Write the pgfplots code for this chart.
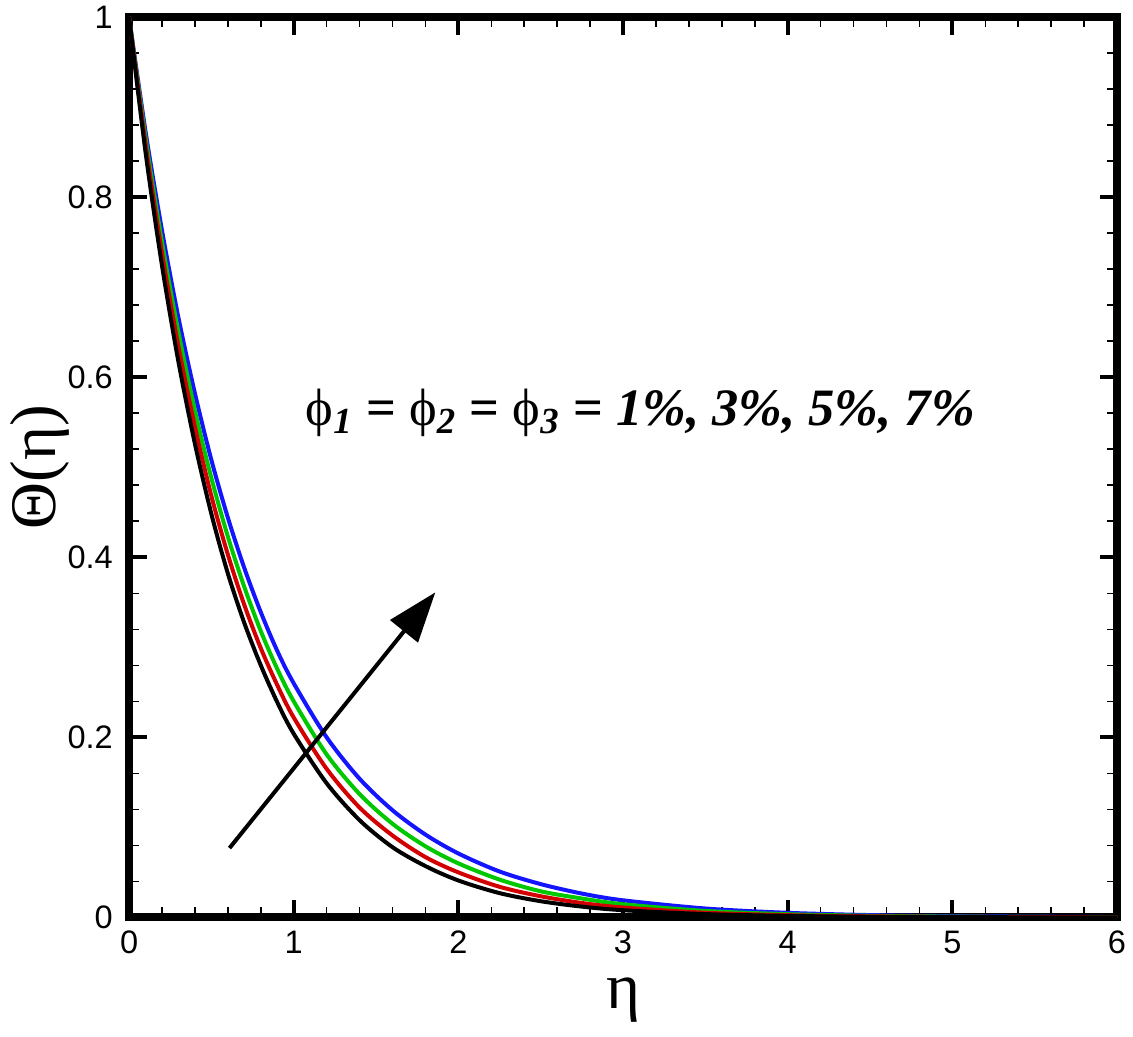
\documentclass[border=0pt]{standalone}
\usepackage{pgfplots}
\pgfplotsset{compat=1.18}
\usepackage{fontspec}
\setmainfont{Liberation Sans}
\newfontfamily\timesf{Liberation Serif}
\usetikzlibrary{arrows.meta,calc}
\definecolor{cred}{RGB}{210,0,0}
\definecolor{cgreen}{RGB}{0,200,0}
\definecolor{cblue}{RGB}{20,20,255}
\begin{document}
\begin{tikzpicture}
\begin{axis}[
  scale only axis, width=395pt, height=360pt,
  xmin=0, xmax=6, ymin=0, ymax=1,
  xtick={0,1,2,3,4,5,6}, ytick={0,0.2,0.4,0.6,0.8,1},
  minor x tick num=4, minor y tick num=4,
  tick align=inside, tick pos=both,
  major tick length=7pt, minor tick length=4pt,
  every major tick/.append style={line width=1.6pt, black},
  every minor tick/.append style={line width=0.6pt, black},
  axis line style={line width=3.2pt},
  /pgf/number format/assume math mode=true,
  ticklabel style={font=\fontsize{13}{13}\selectfont},
  xticklabel style={yshift=-2pt},
  yticklabel style={xshift=-3pt},
  xlabel={η}, ylabel={Θ(η)},
  label style={font=\fontsize{26}{26}\selectfont\timesf},
  xlabel style={at={(axis description cs:0.5,-0.092)}, anchor=center},
  ylabel style={at={(axis description cs:-0.09,0.5)}, anchor=center, rotate=0},
  clip=true,
]
\addplot[cblue, line width=1.6pt, smooth] coordinates {
(0,1) (0.1,0.873) (0.2,0.763) (0.3,0.666) (0.4,0.582) (0.5,0.508) (0.6,0.444) (0.7,0.388)
(0.8,0.339) (0.9,0.296) (1.0,0.260) (1.2,0.200) (1.4,0.154) (1.6,0.119) (1.8,0.092) (2.0,0.071)
(2.25,0.051) (2.5,0.037) (2.75,0.0265) (3.0,0.019) (3.5,0.0099) (4,0.0051) (4.5,0.0026)
(5,0.0014) (6,0.0004)};
\addplot[cgreen, line width=1.6pt, smooth] coordinates {
(0,1) (0.1,0.866) (0.2,0.750) (0.3,0.650) (0.4,0.563) (0.5,0.488) (0.6,0.423) (0.7,0.367)
(0.8,0.318) (0.9,0.276) (1.0,0.240) (1.2,0.181) (1.4,0.137) (1.6,0.104) (1.8,0.079) (2.0,0.060)
(2.25,0.042) (2.5,0.029) (2.75,0.021) (3.0,0.0146) (3.5,0.0072) (4,0.0036) (4.5,0.0018)
(5,0.0009) (6,0.0002)};
\addplot[cred, line width=1.6pt, smooth] coordinates {
(0,1) (0.1,0.859) (0.2,0.738) (0.3,0.634) (0.4,0.545) (0.5,0.468) (0.6,0.403) (0.7,0.347)
(0.8,0.299) (0.9,0.258) (1.0,0.222) (1.2,0.165) (1.4,0.122) (1.6,0.091) (1.8,0.067) (2.0,0.050)
(2.25,0.034) (2.5,0.0235) (2.75,0.016) (3.0,0.011) (3.5,0.0052) (4,0.0025) (4.5,0.0012)
(5,0.0006) (6,0.0001)};
\addplot[black, line width=1.6pt, smooth] coordinates {
(0,1) (0.1,0.850) (0.2,0.724) (0.3,0.617) (0.4,0.526) (0.5,0.448) (0.6,0.382) (0.7,0.327)
(0.8,0.280) (0.9,0.239) (1.0,0.204) (1.2,0.149) (1.4,0.108) (1.6,0.078) (1.8,0.057) (2.0,0.041)
(2.25,0.027) (2.5,0.018) (2.75,0.012) (3.0,0.008) (3.5,0.0037) (4,0.0017) (4.5,0.0007)
(5,0.0003) (6,0)};
\draw[line width=1.6pt, -{Triangle[length=20pt, width=14pt]}] (axis cs:0.61,0.077) -- (axis cs:1.86,0.361);
\node[anchor=west, inner sep=0pt, font=\fontsize{21}{23}\selectfont\timesf\bfseries] at (axis cs:1.07,0.56)
  {{\mdseries ϕ}\textsubscript{\itshape 1} = {\mdseries ϕ}\textsubscript{\itshape 2} = {\mdseries ϕ}\textsubscript{\itshape 3} = \itshape 1\%, 3\%, 5\%, 7\%};
\end{axis}
\pgfresetboundingbox
\path[use as bounding box] ($(current axis.south west)+(-51.6pt,-47.6pt)$) rectangle ($(current axis.north east)+(6.4pt,6.8pt)$);
\end{tikzpicture}
\end{document}
